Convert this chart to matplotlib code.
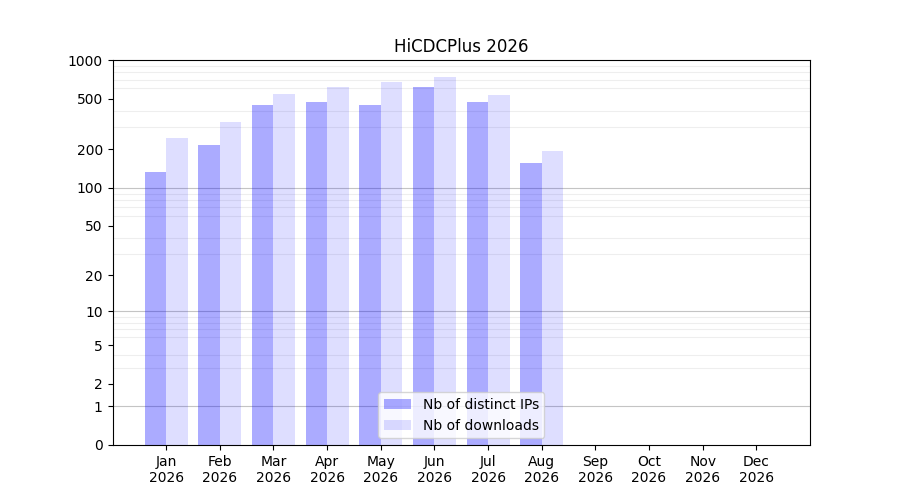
import numpy as np
import matplotlib
matplotlib.use("Agg")
from matplotlib import pyplot as plt

months = ["Jan", "Feb", "Mar", "Apr", "May", "Jun", "Jul", "Aug", "Sep", "Oct", "Nov", "Dec"]
year = 2026
distinct_ips = [132, 216, 444, 469, 444, 614, 469, 156]
downloads = [245, 327, 542, 614, 672, 736, 532, 194]

yticks = [0, 1, 2, 5, 10, 20, 50, 100, 200, 500, 1000]

fig, ax = plt.subplots(figsize=(9, 5), dpi=100)
ax.set_yscale("function", functions=(lambda y: np.log10(np.clip(y, 0, None) + 1),
                                     lambda y: 10 ** y - 1))

x = np.arange(len(months))
w = 0.4
ax.bar(x[:len(distinct_ips)], distinct_ips, width=-w, align="edge",
       color="blue", alpha=0.33, linewidth=0, label="Nb of distinct IPs", zorder=2)
ax.bar(x[:len(downloads)], downloads, width=w, align="edge",
       color="blue", alpha=0.13, linewidth=0, label="Nb of downloads", zorder=2)

# grid: light lines inside each decade, darker at decades
minor = [m * d for d in (1, 10, 100) for m in range(2, 10)]
ax.set_yticks(minor, minor=True)
ax.tick_params(axis="y", which="minor", length=0)
ax.grid(axis="y", which="minor", color="#eeeeee", linewidth=0.8, zorder=0)
for d in (1, 10, 100):
    ax.axhline(d, color="#c4c4c4", linewidth=0.8, zorder=0)

ax.set_yticks(yticks)
ax.set_yticklabels([str(v) for v in yticks])
ax.set_ylim(0, 1000)
ax.set_xlim(-1, 12)
ax.set_xticks(x)
ax.set_xticklabels([f"{m}\n{year}" for m in months])
ax.set_title(f"HiCDCPlus {year}")
ax.legend(loc="lower center")

fig.savefig("out.png")
